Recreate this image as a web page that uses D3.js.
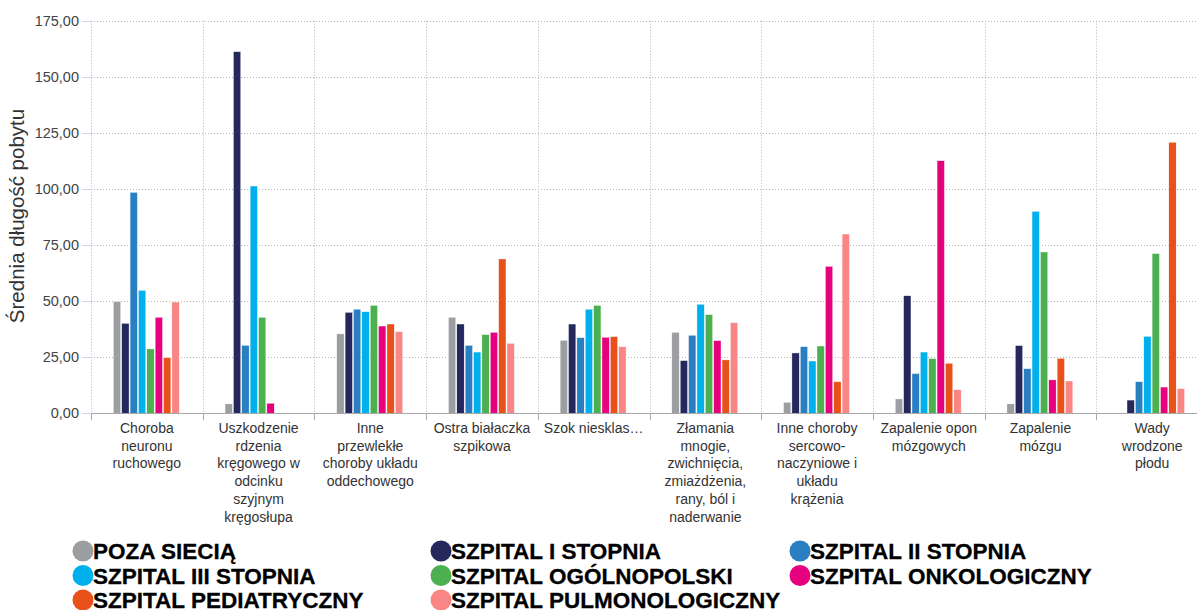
<!DOCTYPE html>
<html>
<head>
<meta charset="utf-8">
<script src="https://cdn.jsdelivr.net/npm/d3@7"></script>
<style>
  html, body { margin: 0; padding: 0; background: #fff; }
  svg { display: block; }
</style>
</head>
<body>
<svg id="chart" width="1197" height="610"></svg>
<script>
// ---- DATA ----
const categories = [
  "Choroba\nneuronu\nruchowego",
  "Uszkodzenie\nrdzenia\nkręgowego w\nodcinku\nszyjnym\nkręgosłupa",
  "Inne\nprzewlekłe\nchoroby układu\noddechowego",
  "Ostra białaczka\nszpikowa",
  "Szok niesklas…",
  "Złamania\nmnogie,\nzwichnięcia,\nzmiażdżenia,\nrany, ból i\nnaderwanie",
  "Inne choroby\nsercowo-\nnaczyniowe i\nukładu\nkrążenia",
  "Zapalenie opon\nmózgowych",
  "Zapalenie\nmózgu",
  "Wady\nwrodzone\npłodu"
];
const seriesNames = [
  "POZA SIECIĄ", "SZPITAL I STOPNIA", "SZPITAL II STOPNIA",
  "SZPITAL III STOPNIA", "SZPITAL OGÓLNOPOLSKI", "SZPITAL ONKOLOGICZNY",
  "SZPITAL PEDIATRYCZNY", "SZPITAL PULMONOLOGICZNY"
];
const seriesColors = ["#9d9ea2", "#25285c", "#2a7fc3", "#00b0ec", "#4caf50", "#e6007e", "#e8521a", "#f98584"];
const pozaSiecia        = [49.8, 4.2, 35.4, 42.8, 32.5, 36.1, 4.9, 6.4, 4.2, null];
const szpitalI          = [40.1, 161.2, 45.0, 39.8, 39.8, 23.5, 26.9, 52.4, 30.2, 5.9];
const szpitalII         = [98.5, 30.3, 46.4, 30.3, 33.7, 34.8, 29.7, 17.7, 19.9, 14.1];
const szpitalIII        = [54.8, 101.3, 45.3, 27.3, 46.4, 48.6, 23.3, 27.3, 90.0, 34.3];
const szpitalOgolnopol  = [28.7, 42.8, 48.1, 35.1, 48.1, 44.0, 30.0, 24.4, 71.9, 71.2];
const szpitalOnkolog    = [42.8, 4.5, 38.9, 36.1, 33.9, 32.4, 65.5, 112.6, 14.9, 11.7];
const szpitalPediatr    = [24.8, null, 39.8, 68.8, 34.2, 23.8, 14.1, 22.3, 24.5, 120.8];
const szpitalPulmonolog = [49.6, null, 36.4, 31.2, 29.7, 40.4, 79.9, 10.5, 14.4, 11.0];
const seriesValues = [pozaSiecia, szpitalI, szpitalII, szpitalIII, szpitalOgolnopol, szpitalOnkolog, szpitalPediatr, szpitalPulmonolog];
const yTicks = [0, 25, 50, 75, 100, 125, 150, 175];
const yTitle = "Średnia długość pobytu";

// ---- CHART ----
const svg = d3.select("#chart");
const plot = { left: 91, top: 20.7, bottom: 413.3, right: 1208 };

const x0 = d3.scaleBand().domain(categories.map((d, i) => i)).range([plot.left, plot.right]).padding(0);
const bw = x0.bandwidth();
const x1 = d3.scaleBand().domain(seriesNames).range([bw * 0.2, bw * 0.79]).paddingInner(0.12).paddingOuter(0);
const y = d3.scaleLinear().domain([0, 175]).range([plot.bottom, plot.top]);
const fmt = v => d3.format(".2f")(v).replace(".", ",");

// horizontal grid
svg.append("g").selectAll("line").data(yTicks.filter(t => t > 0)).join("line")
  .attr("x1", plot.left).attr("x2", 1197)
  .attr("y1", d => Math.round(y(d)) + 0.5).attr("y2", d => Math.round(y(d)) + 0.5)
  .attr("stroke", "#b5b5b5").attr("stroke-width", 1).attr("stroke-dasharray", "1,2");

// vertical grid at band boundaries
const bounds = categories.map((d, i) => x0(i));
svg.append("g").selectAll("line").data(bounds).join("line")
  .attr("x1", d => Math.round(d) + 0.5).attr("x2", d => Math.round(d) + 0.5)
  .attr("y1", plot.top).attr("y2", plot.bottom)
  .attr("stroke", "#b5b5b5").attr("stroke-width", 1).attr("stroke-dasharray", "1,2");

// y axis ticks & labels
const yAxis = svg.append("g");
yAxis.selectAll("line").data(yTicks).join("line")
  .attr("x1", 82).attr("x2", plot.left)
  .attr("y1", d => Math.round(y(d)) + 0.5).attr("y2", d => Math.round(y(d)) + 0.5)
  .attr("stroke", "#ccd6eb");
yAxis.selectAll("text").data(yTicks).join("text")
  .attr("x", 79).attr("y", d => y(d)).attr("dy", "0.35em")
  .attr("text-anchor", "end")
  .attr("font-family", "Liberation Sans, Arial, sans-serif").attr("font-size", 14.5)
  .attr("fill", "#444").text(fmt);

svg.append("text")
  .attr("transform", `translate(24,216) rotate(-90)`)
  .attr("text-anchor", "middle")
  .attr("font-family", "Liberation Sans, Arial, sans-serif").attr("font-size", 20.5)
  .attr("fill", "#333").text(yTitle);

// bars
const groups = svg.append("g").selectAll("g").data(categories).join("g")
  .attr("transform", (d, i) => `translate(${x0(i)},0)`);
groups.selectAll("rect")
  .data((d, i) => seriesNames.map((s, k) => ({ s, k, v: seriesValues[k][i] })).filter(e => e.v != null))
  .join("rect")
  .attr("x", e => x1(e.s)).attr("width", x1.bandwidth())
  .attr("y", e => y(e.v)).attr("height", e => y(0) - y(e.v))
  .attr("fill", e => seriesColors[e.k])
  .attr("stroke", "#fff").attr("stroke-width", 0.4);

// x axis
svg.append("line").attr("x1", plot.left).attr("x2", 1197)
  .attr("y1", Math.round(plot.bottom) + 0.5).attr("y2", Math.round(plot.bottom) + 0.5)
  .attr("stroke", "#a8a8a8");
svg.append("g").selectAll("line").data(bounds).join("line")
  .attr("x1", d => Math.round(d) + 0.5).attr("x2", d => Math.round(d) + 0.5)
  .attr("y1", plot.bottom).attr("y2", plot.bottom + 7)
  .attr("stroke", "#a8a8a8");

const labels = svg.append("g").selectAll("text").data(categories).join("text")
  .attr("text-anchor", "middle")
  .attr("font-family", "Liberation Sans, Arial, sans-serif").attr("font-size", 14)
  .attr("fill", "#333")
  .attr("transform", (d, i) => `translate(${x0(i) + bw / 2},433)`);
labels.selectAll("tspan").data(d => d.split("\n")).join("tspan")
  .attr("x", 0).attr("dy", (d, j) => j === 0 ? 0 : 17.7).text(d => d);

// legend
const legCols = [83, 441, 800];
const legRows = [551, 575.5, 600];
const leg = svg.append("g").selectAll("g").data(seriesNames).join("g")
  .attr("transform", (d, i) => `translate(${legCols[i % 3]},${legRows[Math.floor(i / 3)]})`);
leg.append("circle").attr("r", 10.5).attr("fill", (d, i) => seriesColors[i]);
leg.append("text").attr("x", 10).attr("dy", "0.36em")
  .attr("font-family", "Liberation Sans, Arial, sans-serif").attr("font-weight", "bold")
  .attr("font-size", 22.5).attr("fill", "#000")
  .attr("stroke", "#000").attr("stroke-width", 0.3)
  .text(d => d);
</script>
</body>
</html>
